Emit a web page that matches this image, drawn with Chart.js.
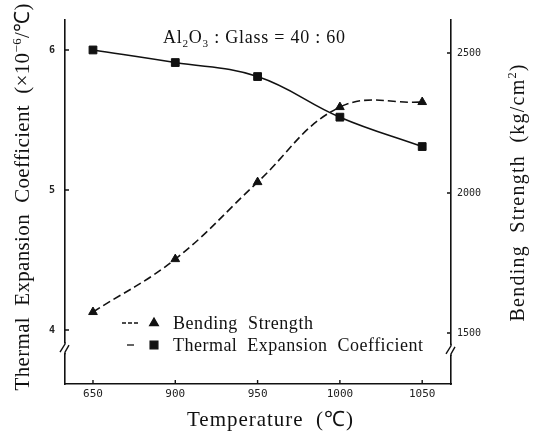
<!DOCTYPE html>
<html>
<head>
<meta charset="utf-8">
<script src="https://cdn.jsdelivr.net/npm/chart.js@4.4.1/dist/chart.umd.min.js"></script>
<style>
  body { margin: 0; background: #fff; }
</style>
</head>
<body>
<canvas id="tecChart" width="533" height="433"></canvas>
<script>
// temperature categories (deg C)
const temperatures = ['650', '900', '950', '1000', '1050'];
// thermal expansion coefficient (x10^-6 /degC) - squares, left axis
const tecValues = [6.00, 5.91, 5.81, 5.52, 5.31];
// bending strength (kg/cm2) - triangles, right axis
const bendValues = [1575, 1764, 2039, 2307, 2325];
// axis tick labels
const tecTicks = [4, 5, 6];
const bendTicks = [1500, 2000, 2500];

const serif = '"Liberation Serif", "Times New Roman", serif';
const mono = '"DejaVu Sans Mono", monospace';
const ink = '#111';

// draw text made of parts [text, shift] (shift -1 = sup, 1 = sub),
// centered on cx, spread to the given width
function drawParts(ctx, parts, cx, baseY, size, width) {
  ctx.save();
  ctx.fillStyle = ink;
  ctx.textAlign = 'left';
  ctx.textBaseline = 'alphabetic';
  ctx.letterSpacing = '0px';
  let w = 0, n = 0;
  const widths = parts.map(p => {
    ctx.font = (p[1] ? size * 0.62 : size) + 'px ' + serif;
    const pw = ctx.measureText(p[0]).width;
    w += pw;
    n += [...p[0]].length;
    return pw;
  });
  const sp = width ? (width - w) / Math.max(1, n - 1) : 0;
  let x = cx - (w + sp * (n - 1)) / 2;
  parts.forEach((p, i) => {
    ctx.font = (p[1] ? size * 0.62 : size) + 'px ' + serif;
    ctx.letterSpacing = sp + 'px';
    const dy = p[1] < 0 ? -size * 0.38 : p[1] > 0 ? size * 0.22 : 0;
    ctx.fillText(p[0], x, baseY + dy);
    x += widths[i] + sp * [...p[0]].length;
  });
  ctx.restore();
}

const decor = {
  id: 'decor',
  afterDraw(chart) {
    const c = chart.ctx;
    const a = chart.chartArea;
    const sx = chart.scales.x, sl = chart.scales.yTec, sr = chart.scales.yBend;

    // tick marks pointing inward
    c.save();
    c.strokeStyle = ink;
    c.lineWidth = 1.4;
    c.beginPath();
    sx.ticks.forEach(t => {
      const px = sx.getPixelForValue(t.value);
      c.moveTo(px, a.bottom); c.lineTo(px, a.bottom - 4);
    });
    sl.ticks.forEach(t => {
      const py = sl.getPixelForValue(t.value);
      c.moveTo(a.left, py); c.lineTo(a.left + 4, py);
    });
    sr.ticks.forEach(t => {
      const py = sr.getPixelForValue(t.value);
      c.moveTo(a.right, py); c.lineTo(a.right - 4, py);
    });
    c.stroke();

    // axis breaks
    [[a.left, sl.getPixelForValue(3.87)], [a.right, sr.getPixelForValue(1440)]].forEach(b => {
      c.fillStyle = '#fff';
      c.fillRect(b[0] - 3, b[1] - 5, 6, 10);
      c.beginPath();
      c.moveTo(b[0], b[1] - 6); c.lineTo(b[0], b[1] - 4);
      c.lineTo(b[0] - 5, b[1] + 4);
      c.moveTo(b[0] + 4, b[1] - 3); c.lineTo(b[0], b[1] + 4); c.lineTo(b[0], b[1] + 6);
      c.stroke();
    });
    c.restore();

    // axis titles
    c.save();
    c.translate(22, 197);
    c.rotate(-Math.PI / 2);
    drawParts(c, [['Thermal  Expansion  Coefficient  (\u00d710', 0], ['\u22126', -1], ['/\u2103)', 0]], 0, 7, 21, 387);
    c.restore();

    c.save();
    c.translate(517, 193);
    c.rotate(-Math.PI / 2);
    drawParts(c, [['Bending  Strength  (kg/cm', 0], ['2', -1], [')', 0]], 0, 7, 20, 257);
    c.restore();

    drawParts(c, [['Temperature  (\u2103)', 0]], 270, 426, 21, 166);

    // composition note
    drawParts(c, [['Al', 0], ['2', 1], ['O', 0], ['3', 1], [' : Glass = 40 : 60', 0]], 254, 43, 18, 182);

    // legend inside the plot
    const rows = [[chart.data.datasets[0], 323, 122, 138, 140], [chart.data.datasets[1], 345, 127, 134, 250]];
    rows.forEach(r => {
      const ds = r[0], y = r[1];
      c.save();
      c.strokeStyle = ink;
      c.fillStyle = ink;
      c.lineWidth = 1.3;
      c.setLineDash(ds.borderDash ? [4, 2] : []);
      c.beginPath();
      c.moveTo(r[2], y); c.lineTo(r[3], y);
      c.stroke();
      c.setLineDash([]);
      Chart.helpers.drawPoint(c, { pointStyle: ds.pointStyle, radius: ds.pointRadius, rotation: 0, borderWidth: 1 }, 154, y);
      c.restore();
      drawParts(c, [[ds.label.split(' ').join('  '), 0]], 173 + r[4] / 2, y + 6, 18, r[4]);
    });
  }
};

const ctx = document.getElementById('tecChart').getContext('2d');
const chart = new Chart(ctx, {
  type: 'line',
  data: {
    datasets: [
      {
        label: 'Bending Strength',
        data: bendValues.map((v, i) => ({ x: i, y: v })),
        yAxisID: 'yBend',
        borderColor: ink,
        backgroundColor: ink,
        borderWidth: 1.6,
        borderDash: [8, 4],
        tension: 0.4,
        pointStyle: 'triangle',
        pointRadius: 5,
        pointBorderWidth: 1
      },
      {
        label: 'Thermal Expansion Coefficient',
        data: tecValues.map((v, i) => ({ x: i, y: v })),
        yAxisID: 'yTec',
        borderColor: ink,
        backgroundColor: ink,
        borderWidth: 1.6,
        tension: 0.4,
        pointStyle: 'rect',
        pointRadius: 5.5,
        pointBorderWidth: 1
      }
    ]
  },
  options: {
    responsive: false,
    animation: false,
    devicePixelRatio: 1,
    layout: { padding: { top: 20 } },
    plugins: { legend: { display: false }, tooltip: { enabled: false } },
    scales: {
      x: {
        type: 'linear',
        min: -0.34,
        max: 4.35,
        afterBuildTicks: s => { s.ticks = temperatures.map((t, i) => ({ value: i })); },
        afterFit: s => { s.height = 49; },
        grid: { display: false, drawTicks: false },
        border: { color: ink, width: 1.6 },
        ticks: {
          callback: v => temperatures[v],
          font: { family: mono, size: 11 },
          color: '#222',
          padding: 4,
          maxRotation: 0,
          autoSkip: false
        }
      },
      yTec: {
        position: 'left',
        min: 3.614,
        max: 6.214,
        afterBuildTicks: s => { s.ticks = tecTicks.map(v => ({ value: v })); },
        afterFit: s => { s.width = 65; },
        grid: { display: false, drawTicks: false },
        border: { color: ink, width: 1.6 },
        ticks: { callback: v => String(v), font: { family: mono, size: 10, weight: 'bold' }, color: '#222', padding: 10 }
      },
      yBend: {
        position: 'right',
        min: 1318,
        max: 2618,
        afterBuildTicks: s => { s.ticks = bendTicks.map(v => ({ value: v })); },
        afterFit: s => { s.width = 82; },
        grid: { display: false, drawTicks: false },
        border: { color: ink, width: 1.6 },
        ticks: { callback: v => String(v), font: { family: mono, size: 10 }, color: '#222', padding: 6 }
      }
    }
  },
  plugins: [decor]
});
</script>
</body>
</html>
